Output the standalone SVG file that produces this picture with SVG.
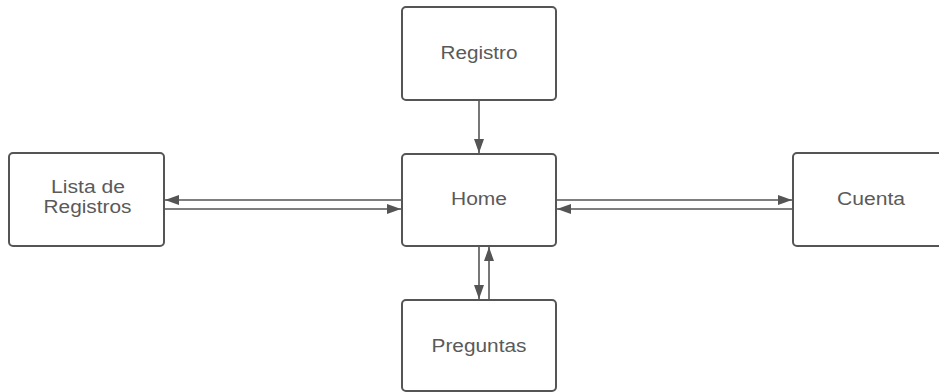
<svg xmlns="http://www.w3.org/2000/svg" width="939" height="392" viewBox="0 0 939 392">
  <style>
    .box { fill: #ffffff; stroke: #555555; stroke-width: 2; }
    .lbl { font-family: "Liberation Sans", Arial, sans-serif; font-size: 17.5px; fill: #5a5a5a; text-anchor: middle; }
    .edge { stroke: #555555; stroke-width: 1.6; fill: none; marker-end: url(#head); }
  </style>
  <defs>
    <marker id="head" viewBox="0 0 14 10" refX="14" refY="5" markerWidth="14" markerHeight="10" markerUnits="userSpaceOnUse" orient="auto">
      <path d="M0,0 L14,5 L0,10 Z" fill="#555555"/>
    </marker>
  </defs>
  <rect width="939" height="392" fill="#ffffff"/>

  <g id="connectors">
    <line class="edge" x1="479" y1="101" x2="479" y2="153"/>
    <line class="edge" x1="401" y1="200" x2="165" y2="200"/>
    <line class="edge" x1="165" y1="209" x2="401" y2="209"/>
    <line class="edge" x1="557" y1="200" x2="792" y2="200"/>
    <line class="edge" x1="792" y1="209" x2="557" y2="209"/>
    <line class="edge" x1="479" y1="247" x2="479" y2="299"/>
    <line class="edge" x1="489" y1="299" x2="489" y2="247"/>
  </g>

  <g id="registro">
    <rect class="box" x="402" y="7" width="154" height="93" rx="4"/>
    <text class="lbl" x="479" y="59" textLength="77" lengthAdjust="spacingAndGlyphs">Registro</text>
  </g>
  <g id="home">
    <rect class="box" x="402" y="154" width="154" height="92" rx="4"/>
    <text class="lbl" x="479" y="205" textLength="56" lengthAdjust="spacingAndGlyphs">Home</text>
  </g>
  <g id="lista-registros">
    <rect class="box" x="9" y="153" width="155" height="93" rx="4"/>
    <text class="lbl" x="88" y="193" textLength="74" lengthAdjust="spacingAndGlyphs">Lista de</text>
    <text class="lbl" x="87.5" y="213" textLength="88" lengthAdjust="spacingAndGlyphs">Registros</text>
  </g>
  <g id="cuenta">
    <rect class="box" x="793" y="153" width="155" height="93" rx="4"/>
    <text class="lbl" x="871" y="205" textLength="68" lengthAdjust="spacingAndGlyphs">Cuenta</text>
  </g>
  <g id="preguntas">
    <rect class="box" x="402" y="300" width="154" height="91" rx="4"/>
    <text class="lbl" x="479" y="352" textLength="95" lengthAdjust="spacingAndGlyphs">Preguntas</text>
  </g>
</svg>
